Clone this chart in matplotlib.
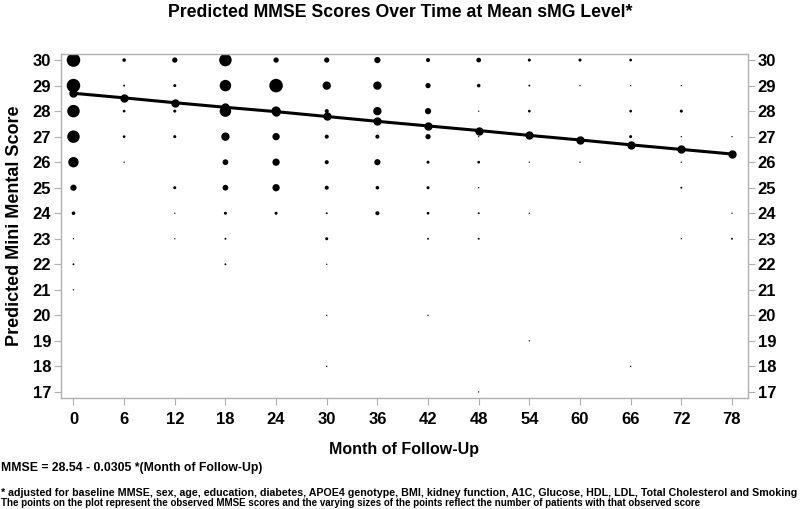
import matplotlib
matplotlib.use("Agg")
import matplotlib.pyplot as plt
import numpy as np

plt.rcParams['font.family'] = ['Liberation Sans', 'DejaVu Sans']
plt.rcParams['font.weight'] = 'bold'

# follow-up months shown on the x axis
months = [0, 6, 12, 18, 24, 30, 36, 42, 48, 54, 60, 66, 72, 78]
# predicted MMSE at each month (line with markers)
predicted = [28.70, 28.52, 28.33, 28.15, 27.98, 27.79, 27.60,
             27.42, 27.24, 27.05, 26.87, 26.68, 26.50, 26.32]

# observed scores: month, score, estimated number of patients
obs_month = [0, 0, 0, 0, 0, 0, 0, 0, 0, 0,
             6, 6, 6, 6, 6,
             12, 12, 12, 12, 12, 12, 12,
             18, 18, 18, 18, 18, 18, 18, 18, 18,
             24, 24, 24, 24, 24, 24, 24,
             30, 30, 30, 30, 30, 30, 30, 30, 30, 30, 30,
             36, 36, 36, 36, 36, 36, 36,
             42, 42, 42, 42, 42, 42, 42, 42, 42,
             48, 48, 48, 48, 48, 48, 48, 48, 48,
             54, 54, 54, 54, 54, 54,
             60, 60, 60,
             66, 66, 66, 66, 66,
             72, 72, 72, 72, 72, 72,
             78, 78, 78]
obs_score = [30, 29, 28, 27, 26, 25, 24, 23, 22, 21,
             30, 29, 28, 27, 26,
             30, 29, 28, 27, 25, 24, 23,
             30, 29, 28, 27, 26, 25, 24, 23, 22,
             30, 29, 28, 27, 26, 25, 24,
             30, 29, 28, 27, 26, 25, 24, 23, 22, 20, 18,
             30, 29, 28, 27, 26, 25, 24,
             30, 29, 28, 27, 26, 25, 24, 23, 20,
             30, 29, 28, 27, 26, 25, 24, 23, 17,
             30, 29, 28, 26, 24, 19,
             30, 29, 26,
             30, 29, 28, 27, 18,
             29, 28, 27, 26, 25, 23,
             27, 24, 23]
obs_count = [100, 100, 85, 85, 59, 21, 7, 1, 2, 1,
             7, 2, 4, 4, 1,
             15, 5, 5, 5, 5, 1, 1,
             85, 72, 72, 38, 18, 18, 5, 2, 2,
             15, 100, 48, 29, 29, 29, 5,
             15, 38, 9, 9, 9, 9, 2, 5, 1, 1, 1,
             21, 38, 38, 9, 21, 7, 9,
             9, 15, 21, 15, 5, 5, 4, 2, 1,
             12, 7, 1, 1, 4, 1, 2, 2, 1,
             5, 2, 4, 1, 1, 1,
             5, 1, 1,
             4, 1, 4, 5, 1,
             1, 5, 1, 1, 2, 1,
             1, 1, 2]

fig = plt.figure(figsize=(8, 5.09), dpi=100)
ax = fig.add_axes([0.076, 0.218, 0.859, 0.676])

ax.scatter(obs_month, obs_score, s=np.array(obs_count) * 0.95,
           color='black', linewidths=0, zorder=2)
ax.plot(months, predicted, color='black', linewidth=2.2,
        marker='o', markersize=5, zorder=3)

ax.set_xlim(-1.5, 79.9)
ax.set_ylim(16.76, 30.24)
ax.set_xticks(months)
ax.set_yticks(range(17, 31))
ax.tick_params(axis='both', which='both', direction='out', length=5,
               color='#b0b0b0', labelsize=12, pad=2)
ax.tick_params(axis='x', pad=5)
ax.tick_params(axis='y', right=True, labelright=True)
for lab in ax.get_xticklabels() + ax.get_yticklabels():
    lab.set_fontweight('bold')
for sp in ax.spines.values():
    sp.set_color('#b0b0b0')
    sp.set_linewidth(1)

ax.set_xlabel('Month of Follow-Up', fontsize=11.5, fontweight='bold', labelpad=11)
ax.set_ylabel('Predicted Mini Mental Score', fontsize=13, fontweight='bold', labelpad=7)

fig.text(0.5, 0.976, 'Predicted MMSE Scores Over Time at Mean sMG Level*',
         ha='center', va='center', fontsize=12.7, fontweight='bold')
fig.text(0.001, 1 - 468 / 509, 'MMSE = 28.54 - 0.0305 *(Month of Follow-Up)',
         ha='left', va='center', fontsize=8.8, fontweight='bold')
fig.text(0.001, 1 - 492.5 / 509,
         '* adjusted for baseline MMSE, sex, age, education, diabetes, APOE4 genotype, BMI, '
         'kidney function, A1C, Glucose, HDL, LDL, Total Cholesterol and Smoking',
         ha='left', va='center', fontsize=7.65, fontweight='bold')
fig.text(0.001, 1 - 503 / 509,
         'The points on the plot represent the observed MMSE scores and the varying sizes '
         'of the points reflect the number of patients with that observed score',
         ha='left', va='center', fontsize=7.0, fontweight='bold')

fig.savefig('out.png', dpi=100)
plt.close(fig)
